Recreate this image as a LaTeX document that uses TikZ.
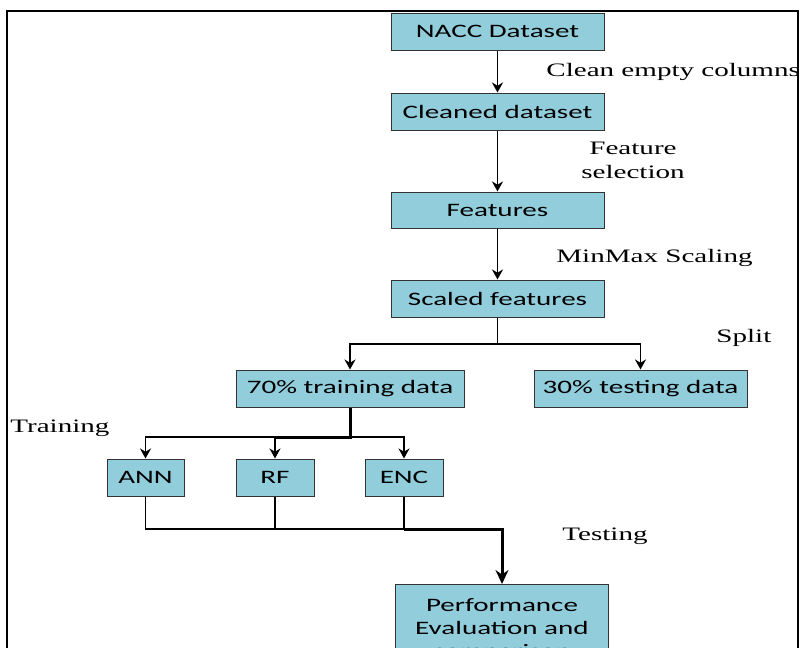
\documentclass[tikz,border=0pt]{standalone}
\usepackage{fontspec}
\setmainfont[FakeStretch=1.53]{Liberation Serif}
\newfontfamily\boxfont[FakeStretch=1.53]{Carlito}
\usetikzlibrary{arrows.meta}
\definecolor{boxblue}{RGB}{146,205,220}

\begin{document}
\begin{tikzpicture}[x=0.5pt, y=-0.5pt,
			font=\fontsize{9.5}{12}\selectfont,
			stage/.style={draw=black!80, line width=0.5pt, fill=boxblue, font=\boxfont\fontsize{9.5}{11.5}\selectfont,
				minimum width=106.5pt, minimum height=18.5pt, inner sep=0pt, align=center},
			flow/.style={line width=0.85pt, -{Stealth[length=5pt, width=5.5pt]}},
			link/.style={line width=0.85pt},
			heavy/.style={line width=1.5pt},
			note/.style={anchor=west, inner sep=0pt}]
		\useasboundingbox (0,0) rectangle (800,648);
		\clip (0,0) rectangle (800,648);
		\draw[line width=1pt] (7,11) rectangle (798,720);
		% pipeline boxes
		\node[stage] (nacc) at (497.5,31.5) {NACC Dataset};
		\node[stage] (clean) at (497.5,111.5) {Cleaned dataset};
		\node[stage, minimum height=18pt] (feat) at (497.5,210) {Features};
		\node[stage] (scaled) at (497.5,298.5) {Scaled features};
		\node[stage, minimum width=114pt] (train) at (350,388.5) {70\% training data};
		\node[stage] (test) at (640.5,388.5) {30\% testing data};
		\node[stage, minimum width=38.5pt] (ann) at (145.5,477.5) {ANN};
		\node[stage, minimum width=39pt] (rf) at (275,477.5) {RF};
		\node[stage, minimum width=39pt] (enc) at (404,477.5) {ENC};
		\node[stage, anchor=north, minimum height=45pt, inner ysep=2.6pt] (perf) at (502,584)
			{Performance\\Evaluation and\\comparison};
		% step labels
		\node[note] (lclean) at (546,72) {Clean empty columns};
		\node[align=center, inner sep=0pt] (lfeat) at (633,160) {Feature\\selection};
		\node[note] (lscale) at (556,258) {MinMax Scaling};
		\node[note] (lsplit) at (716,338) {Split};
		\node[note] (ltrain) at (10,428) {Training};
		\node[note] (ltest) at (562,536) {Testing};
		% connectors
		\draw[flow] (nacc) -- (clean);
		\draw[flow] (clean) -- (feat);
		\draw[flow] (feat) -- (scaled);
		\coordinate (split) at (497.5,344);
		\draw[link] (scaled) -- (split);
		\draw[flow] (split) -| (train);
		\draw[flow] (split) -| (test);
		\coordinate (fork) at (350,437);
		\draw[heavy] (train) -- (fork) -- (fork -| rf);
		\draw[flow] (fork) -| (ann);
		\draw[flow] (fork) -| (rf);
		\draw[flow] (fork) -| (enc);
		\coordinate (join) at (502,529);
		\draw[link] (ann) |- (enc |- join);
		\draw[link] (rf) -- (rf |- join);
		\draw[link] (enc) -- (enc |- join);
		\draw[heavy, -{Stealth[length=7pt, width=6.5pt]}] (enc |- join) -- (join) -- (perf);
\end{tikzpicture}
\end{document}
